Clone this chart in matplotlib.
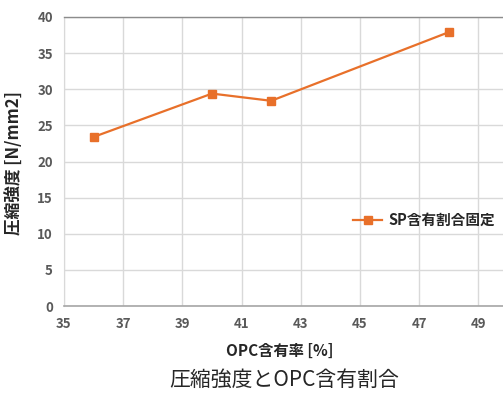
import matplotlib
matplotlib.use("Agg")
import matplotlib.pyplot as plt

plt.rcParams['font.family'] = ['Noto Sans CJK JP', 'DejaVu Sans']

# data
opc = [36, 40, 42, 48]
strength = [23.4, 29.4, 28.4, 37.9]
series_name = 'SP含有割合固定'
xticks = [35, 37, 39, 41, 43, 45, 47, 49]
yticks = [0, 5, 10, 15, 20, 25, 30, 35, 40]

orange = '#E8702A'
grid_c = '#D9D9D9'
tick_c = '#595959'

fig = plt.figure(figsize=(5.03, 3.98), dpi=100)
ax = fig.add_axes([64 / 503, 1 - 306 / 398, 444 / 503, 289 / 398])

ax.plot(opc, strength, color=orange, lw=1.6, marker='s', ms=5.5,
        markeredgecolor=orange, label=series_name, zorder=3)

ax.set_xlim(35, 50)
ax.set_ylim(0, 40)
ax.set_xticks(xticks)
ax.set_yticks(yticks)
ax.grid(True, color=grid_c, lw=1.0)
ax.set_axisbelow(True)

ax.spines['right'].set_visible(False)
ax.spines['top'].set_color('#8C8C8C')
ax.spines['top'].set_linewidth(1.0)
ax.spines['left'].set_color(grid_c)
ax.spines['bottom'].set_color('#A6A6A6')
ax.spines['bottom'].set_linewidth(1.2)

ax.tick_params(length=0, labelsize=9.5, labelcolor=tick_c, pad=8)
for lb in ax.get_xticklabels() + ax.get_yticklabels():
    lb.set_fontweight('bold')

ax.set_ylabel('圧縮強度 [N/mm2]', fontsize=12, fontweight='bold', color='#262626')
ax.yaxis.set_label_coords(-(64 - 15) / 444, (306 - 163) / 289)
ax.yaxis.label.set_va('center')
ax.set_xlabel('OPC含有率 [%]', fontsize=11, fontweight='bold', color='#262626')
ax.xaxis.set_label_coords((280 - 64) / 444, -(351 - 306) / 289)
ax.xaxis.label.set_va('center')

leg = fig.legend(loc='center left', bbox_to_anchor=(353 / 503, 1 - 220 / 398),
                 frameon=False, handlelength=2.0, handletextpad=0.4,
                 borderpad=0, borderaxespad=0,
                 prop={'weight': 'bold', 'size': 10.5})
for t in leg.get_texts():
    t.set_color('#262626')

fig.text(284 / 503, 1 - 380 / 398, '圧縮強度とOPC含有割合', fontsize=15,
         ha='center', va='center', color='#262626')

fig.savefig('out.png', dpi=100)
